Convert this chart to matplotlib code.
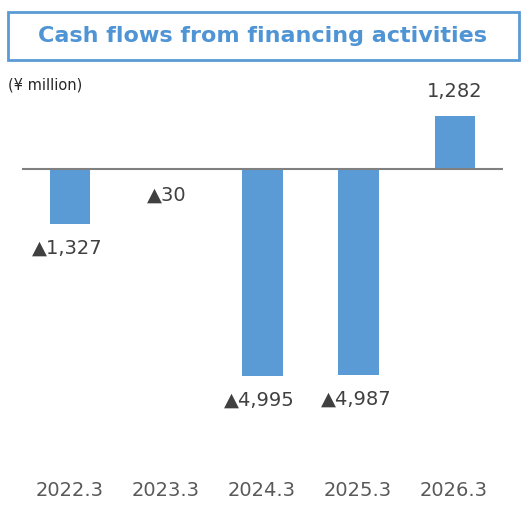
import matplotlib.pyplot as plt
from matplotlib.patches import Rectangle

years = ['2022.3', '2023.3', '2024.3', '2025.3', '2026.3']
values = [-1327, -30, -4995, -4987, 1282]
labels = ['▲1,327', '▲30', '▲4,995', '▲4,987', '1,282']

W, H = 527, 513
fig = plt.figure(figsize=(W / 100, H / 100), dpi=100)
ax = fig.add_axes([22 / W, 1 - 440 / H, 481 / W, 340 / H])
bar_color = '#5b9bd5'
text_color = '#404040'

ax.bar(range(len(values)), values, width=0.42, color=bar_color)
ax.axhline(0, color='#808080', lw=1.5)
ax.set_xlim(-0.5, 4.5)
ax.set_ylim(-6547, 1666)
ax.axis('off')

for i, (v, lab) in enumerate(zip(values, labels)):
    if v > 0:
        ax.text(i, v + 350, lab, ha='center', va='bottom', fontsize=14, color=text_color)
    elif v > -200:
        ax.text(i, -400, lab, ha='center', va='top', fontsize=14, color=text_color)
    else:
        ax.text(i - 0.03, v - 350, lab, ha='center', va='top', fontsize=14, color=text_color)
    fig.text((22 + 96 * i + 48) / W, 1 - 491 / H, years[i], ha='center', va='center',
             fontsize=14, color='#595959')

fig.patches.append(Rectangle((8 / W, 1 - 60 / H), 511 / W, 48 / H, transform=fig.transFigure,
                             fill=False, edgecolor='#5b9bd5', lw=2))
fig.text(263 / W, 1 - 36 / H, 'Cash flows from financing activities', ha='center', va='center',
         fontsize=16, fontweight='bold', color='#4f94d4')
fig.text(8 / W, 1 - 85 / H, '(¥ million)', ha='left', va='center', fontsize=10.5, color='#262626')

fig.savefig('out.png', dpi=100)
